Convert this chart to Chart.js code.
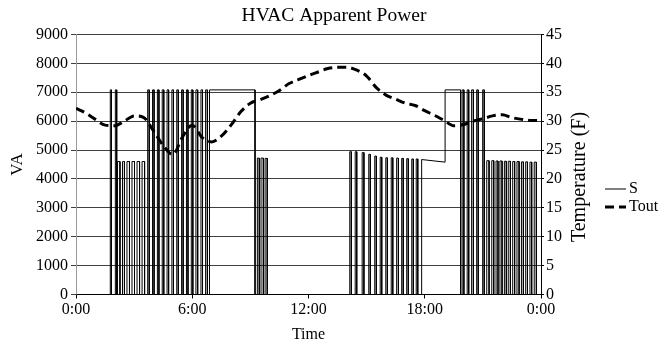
<!DOCTYPE html>
<html>
<head>
<meta charset="utf-8">
<title>HVAC Apparent Power</title>
<script src="https://cdn.jsdelivr.net/npm/chart.js@4.4.0/dist/chart.umd.min.js"></script>
<style>
    html, body { margin: 0; padding: 0; background: #fff; }
    #wrap { width: 668px; height: 349px; }
</style>
</head>
<body>
<div id="wrap"><canvas id="hvacChart" width="668" height="349"></canvas></div>
<script>
const pulseOn = [
    1.77, 2.03, 2.14, 2.40, 2.63, 2.89, 3.15, 3.41,
    3.70, 3.95, 4.20, 4.45, 4.70, 4.95, 5.20, 5.45, 5.70, 5.95, 6.19, 6.45, 6.69,
    6.89, 9.36, 9.55, 9.76,
    14.13, 14.41, 14.77, 15.11, 15.42, 15.70, 15.99, 16.27, 16.55, 16.81, 17.07, 17.33, 17.56,
    17.84, 19.05,
    19.93, 20.19, 20.42, 20.68, 20.99,
    21.20, 21.46, 21.68, 21.88, 22.11, 22.31, 22.54, 22.76, 22.99, 23.21, 23.43, 23.65
];
const pulseOff = [
    1.83, 2.10, 2.27, 2.50, 2.76, 3.02, 3.28, 3.54,
    3.78, 4.03, 4.28, 4.53, 4.78, 5.03, 5.28, 5.53, 5.78, 6.03, 6.28, 6.53, 6.78,
    9.24, 9.46, 9.67, 9.87,
    14.21, 14.49, 14.86, 15.19, 15.50, 15.78, 16.07, 16.35, 16.64, 16.89, 17.15, 17.41, 17.64,
    19.05, 19.85,
    20.02, 20.27, 20.51, 20.76, 21.07,
    21.32, 21.56, 21.78, 21.99, 22.21, 22.42, 22.64, 22.87, 23.09, 23.30, 23.52, 23.76
];
const pulseVA = [
    7080, 7080, 4600, 4600, 4600, 4600, 4600, 4600,
    7080, 7080, 7080, 7080, 7080, 7080, 7080, 7080, 7080, 7080, 7080, 7080, 7080,
    7080, 4720, 4720, 4710,
    4940, 4940, 4910, 4850, 4790, 4750, 4730, 4730, 4720, 4710, 4700, 4690, 4690,
    [4670, 4580], 7080,
    7080, 7080, 7080, 7080, 7080,
    4630, 4630, 4620, 4620, 4610, 4610, 4600, 4600, 4590, 4590, 4580, 4580
];

// Tout: outdoor temperature (F), right axis
const toutHours = [
    0, 0.5, 1, 1.5, 2, 2.5, 3, 3.5, 4, 4.5, 5, 5.5, 6, 6.5, 7, 7.5, 8, 8.5, 9, 9.5, 10, 10.5, 11, 11.5,
    12, 12.5, 13, 13.5, 14, 14.5, 15, 15.5, 16, 16.5, 17, 17.5, 18, 18.5, 19, 19.5, 20, 20.5, 21, 21.5,
    22, 22.5, 23, 23.5, 24
];
const toutTemp = [
    32.2, 31.4, 30.3, 29.3, 29.2, 30.0, 30.9, 30.6, 28.3, 25.8, 24.2, 27.3, 29.3, 27.2, 26.4, 27.4,
    29.3, 31.6, 33.1, 33.7, 34.4, 35.3, 36.5, 37.2, 37.9, 38.5, 39.1, 39.3, 39.3, 38.8, 37.8, 35.8,
    34.5, 33.8, 33.1, 32.7, 31.8, 31.0, 30.1, 29.2, 29.4, 30.0, 30.4, 30.9, 31.1, 30.6, 30.3, 30.1, 30.1
];

const timeLabels = ['0:00', '6:00', '12:00', '18:00', '0:00'];

const FONT = '"Liberation Serif", "Times New Roman", serif';

// turn the on/off table into vertices with vertical edges
function buildPowerPoints() {
    const pts = [{ x: 0, y: 0 }];
    for (let i = 0; i < pulseOn.length; i++) {
        const lv = Array.isArray(pulseVA[i]) ? pulseVA[i] : [pulseVA[i], pulseVA[i]];
        if (i === 0 || pulseOff[i - 1] !== pulseOn[i]) pts.push({ x: pulseOn[i], y: 0 });
        pts.push({ x: pulseOn[i], y: lv[0] });
        pts.push({ x: pulseOff[i], y: lv[1] });
        if (i === pulseOn.length - 1 || pulseOn[i + 1] !== pulseOff[i]) pts.push({ x: pulseOff[i], y: 0 });
    }
    pts.push({ x: 24, y: 0 });
    return pts;
}

// right axis title reads bottom-to-top, and the legend sits low on the right
const extras = {
    id: 'extras',
    afterDraw(chart) {
        const { ctx } = chart;
        ctx.save();
        ctx.fillStyle = '#000';
        ctx.font = '20px ' + FONT;
        ctx.textAlign = 'center';
        ctx.textBaseline = 'middle';
        ctx.translate(580, 177);
        ctx.rotate(-Math.PI / 2);
        ctx.fillText('Temperature (F)', 0, 0);
        ctx.restore();

        ctx.save();
        ctx.font = '16px ' + FONT;
        ctx.textBaseline = 'middle';
        chart.data.datasets.forEach((ds, i) => {
            const y = 189 + i * 18;
            ctx.strokeStyle = ds.borderColor;
            ctx.lineWidth = ds.borderWidth;
            ctx.setLineDash(ds.borderDash || []);
            ctx.beginPath();
            ctx.moveTo(605, y);
            ctx.lineTo(626, y);
            ctx.stroke();
            ctx.fillStyle = '#000';
            ctx.fillText(ds.label, 629, y);
        });
        ctx.restore();
    }
};

const ctx = document.getElementById('hvacChart').getContext('2d');
const hvacChart = new Chart(ctx, {
    type: 'line',
    data: {
        datasets: [{
            label: 'S',
            data: buildPowerPoints(),
            borderColor: '#000',
            borderWidth: 1,
            pointRadius: 0,
            tension: 0,
            yAxisID: 'y',
            order: 1
        }, {
            label: 'Tout',
            data: toutHours.map((h, i) => ({ x: h, y: toutTemp[i] })),
            borderColor: '#000',
            borderWidth: 3,
            borderDash: [9, 5],
            pointRadius: 0,
            cubicInterpolationMode: 'monotone',
            yAxisID: 'y1',
            order: 0
        }]
    },
    options: {
        responsive: false,
        animation: false,
        layout: { padding: 0 },
        plugins: {
            legend: { display: false },
            tooltip: { enabled: false },
            title: {
                display: true,
                text: 'HVAC Apparent Power',
                color: '#000',
                font: { family: FONT, size: 19.5, weight: 'normal' },
                padding: { top: 4, bottom: 7 }
            }
        },
        scales: {
            x: {
                type: 'linear',
                min: 0,
                max: 24,
                afterFit: s => { s.height = 54.5; },
                ticks: {
                    stepSize: 6,
                    autoSkip: false,
                    maxRotation: 0,
                    padding: 2,
                    color: '#000',
                    font: { family: FONT, size: 16 },
                    callback: (v, i) => timeLabels[i]
                },
                grid: { drawOnChartArea: false, drawTicks: true, tickLength: 4, color: '#000' },
                border: { color: '#000' },
                title: {
                    display: true,
                    text: 'Time',
                    color: '#000',
                    font: { family: FONT, size: 16 },
                    padding: { top: 2, bottom: 5 }
                }
            },
            y: {
                position: 'left',
                min: 0,
                max: 9000,
                afterFit: s => { s.width = 76; },
                ticks: {
                    stepSize: 1000,
                    padding: 3,
                    color: '#000',
                    font: { family: FONT, size: 16 },
                    callback: v => String(v)
                },
                grid: { color: '#404040', tickLength: 5, tickColor: '#404040' },
                border: { color: '#999' },
                title: {
                    display: true,
                    text: 'VA',
                    color: '#000',
                    font: { family: FONT, size: 17 },
                    padding: { top: 7, bottom: 2 }
                }
            },
            y1: {
                position: 'right',
                min: 0,
                max: 45,
                afterFit: s => { s.width = 127; },
                ticks: {
                    stepSize: 5,
                    padding: 2,
                    color: '#000',
                    font: { family: FONT, size: 16 }
                },
                grid: { drawOnChartArea: false, tickLength: 3, color: '#000' },
                border: { color: '#000' }
            }
        }
    },
    plugins: [extras]
});
</script>
</body>
</html>
